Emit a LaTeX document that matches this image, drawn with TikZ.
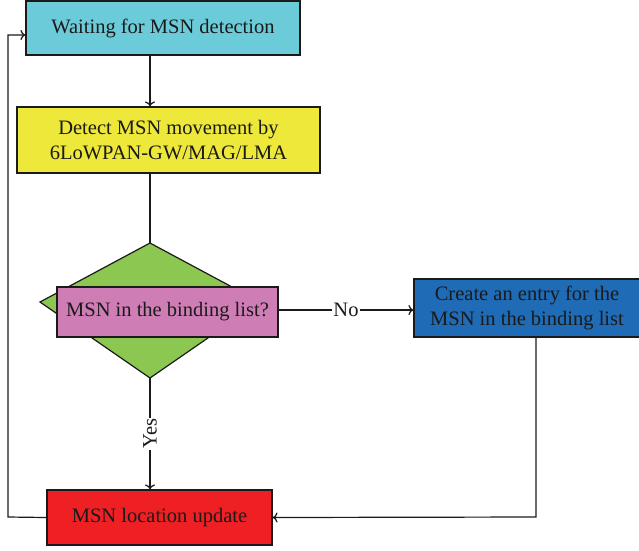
\documentclass[tikz,border=0pt]{standalone}
\usepackage{fontspec}
\setmainfont{Liberation Serif}
\usetikzlibrary{arrows.meta}
\definecolor{cyanbox}{HTML}{6CCBD8}
\definecolor{yellowbox}{HTML}{EDE83A}
\definecolor{greenbox}{HTML}{8CC751}
\definecolor{pinkbox}{HTML}{CF7DB5}
\definecolor{bluebox}{HTML}{1F6BB5}
\definecolor{redbox}{HTML}{EE2024}
\definecolor{ink}{HTML}{1A1A1A}
\tikzset{
  x=1pt, y=-1pt,
  flowbox/.style={draw=ink, line width=1.2pt, inner sep=0pt, text=ink, font=\fontsize{20.5}{24.5}\selectfont, align=center},
  conn/.style={draw=ink, line width=1.2pt, -{To[length=5pt,width=10pt]}},
  plain/.style={draw=ink, line width=1.2pt},
  lbl/.style={fill=white, inner sep=1pt, text=ink, font=\fontsize{20.5}{24.5}\selectfont}
}
\begin{document}
\begin{tikzpicture}
\useasboundingbox (0,0) rectangle (639,550);
% process boxes
\node[flowbox, fill=cyanbox, minimum width=274pt, minimum height=54pt] (wait) at (163,28) {Waiting for MSN detection};
\node[flowbox, fill=yellowbox, minimum width=303pt, minimum height=66pt] (detect) at (168.5,140) {Detect MSN movement by\\6LoWPAN-GW/MAG/LMA};
% decision diamond with its caption box on top
\coordinate (dtop) at (150,243);
\coordinate (dbot) at (150,378);
\filldraw[fill=greenbox, draw=ink, line width=1.2pt] (dtop) -- (260,302) -- (dbot) -- (40,302) -- cycle;
\node[flowbox, fill=pinkbox, minimum width=221pt, minimum height=50pt] (check) at (167.5,312) {MSN in the binding list?};
\node[flowbox, fill=bluebox, minimum width=226pt, minimum height=58pt] (create) at (527,308) {Create an entry for the\\MSN in the binding list};
\node[flowbox, fill=redbox, minimum width=225pt, minimum height=55pt] (update) at (159.5,517.5) {MSN location update};
% connectors
\draw[conn] (wait.south -| dtop) -- (detect.north -| dtop);
\draw[plain] (detect.south -| dtop) -- (dtop);
\draw[conn] (check.east |- 0,310) -- node[lbl, pos=0.5] {No} (create.west |- 0,310);
\draw[conn] (dbot) -- node[lbl, rotate=90, pos=0.5] {Yes} (update.north -| dbot);
\coordinate (rturn) at (536,517);
\draw[conn] (create.south -| rturn) -- (rturn) -- (update.east);
\coordinate (lbot) at (8,517);
\coordinate (ltop) at (8,35);
\draw[conn] (update.west) -- (lbot) -- (ltop) -- (wait.west |- ltop);
\end{tikzpicture}
\end{document}
